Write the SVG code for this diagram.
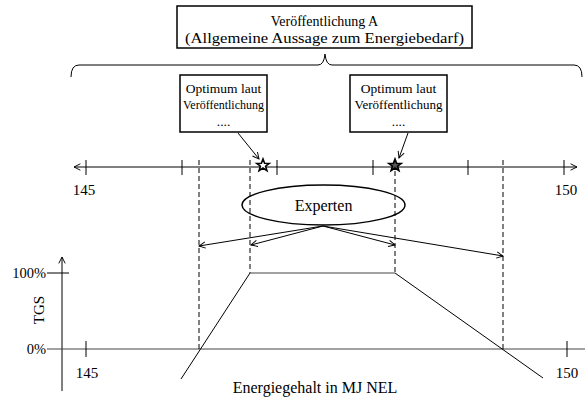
<svg xmlns="http://www.w3.org/2000/svg" width="585" height="397" viewBox="0 0 585 397">
<defs>
<style>
text{font-family:"Liberation Serif","Times New Roman",serif;fill:#000}
.ln{stroke:#000;stroke-width:1;fill:none}
.gr{stroke:#444;stroke-width:1;fill:none}
.dash{stroke:#000;stroke-width:1;stroke-dasharray:5,3;fill:none}
.box{fill:#fff;stroke:#000;stroke-width:1.5}
.sb{font-size:13.5px;text-anchor:middle}
</style>
<marker id="ah" viewBox="0 0 10 10" refX="9" refY="5" markerWidth="8" markerHeight="8" orient="auto-start-reverse" markerUnits="userSpaceOnUse">
<path d="M1,1 L9,5 L1,9" fill="none" stroke="#000" stroke-width="1.2"/>
</marker>
</defs>
<rect width="585" height="397" fill="#fff"/>

<g id="publication-a">
<rect class="box" x="177" y="6" width="295" height="42"/>
<text x="324.5" y="26" font-size="14" text-anchor="middle">Veröffentlichung A</text>
<text x="185" y="43" font-size="15" textLength="279" lengthAdjust="spacingAndGlyphs">(Allgemeine Aussage zum Energiebedarf)</text>
</g>

<g id="brace">
<path class="ln" d="M71,77 Q71,65 79,65 L318,65 Q324,65 325,54 Q326,65 332,65 L574,65 Q582,65 582,77"/>
</g>

<g id="optimum-1">
<rect class="box" x="180" y="75" width="87" height="57"/>
<text class="sb" x="223.5" y="93">Optimum laut</text>
<text class="sb" x="223.5" y="109" textLength="81" lengthAdjust="spacingAndGlyphs">Veröffentlichung</text>
<text class="sb" x="223.5" y="126">....</text>
</g>

<g id="optimum-2">
<rect class="box" x="350" y="75" width="97" height="57"/>
<text class="sb" x="398.5" y="93">Optimum laut</text>
<text class="sb" x="398.5" y="109" textLength="88" lengthAdjust="spacingAndGlyphs">Veröffentlichung</text>
<text class="sb" x="398.5" y="126">....</text>
</g>

<g id="scale-top">
<line class="ln" x1="74" y1="167" x2="577" y2="167" marker-start="url(#ah)" marker-end="url(#ah)"/>
<g class="ln">
<line x1="86" y1="160" x2="86" y2="175"/>
<line x1="182" y1="160" x2="182" y2="175"/>
<line x1="277" y1="160" x2="277" y2="175"/>
<line x1="373" y1="160" x2="373" y2="175"/>
<line x1="468" y1="160" x2="468" y2="175"/>
<line x1="564" y1="160" x2="564" y2="175"/>
</g>
<text x="84" y="195" font-size="15" text-anchor="middle">145</text>
<text x="566" y="195" font-size="15" text-anchor="middle">150</text>
</g>

<g id="stars">
<path d="M263,159 L264.6,163.3 L269.2,163.4 L265.6,166.2 L266.9,170.6 L263,168 L259.1,170.6 L260.4,166.2 L256.8,163.4 L261.4,163.3 Z" fill="#fff" stroke="#000" stroke-width="1.6"/>
<path d="M395,159 L396.6,163.3 L401.2,163.4 L397.6,166.2 L398.9,170.6 L395,168 L391.1,170.6 L392.4,166.2 L388.8,163.4 L393.4,163.3 Z" fill="#555" stroke="#000" stroke-width="1.6"/>
</g>

<g id="experten">
<ellipse cx="323.5" cy="205" rx="81.5" ry="20" fill="#fff" stroke="#000" stroke-width="1.5"/>
<text x="323.5" y="211" font-size="16" text-anchor="middle">Experten</text>
</g>

<g id="tgs-axis">
<line class="ln" x1="62" y1="391" x2="62" y2="257" marker-end="url(#ah)"/>
<line class="ln" x1="47" y1="273" x2="69" y2="273"/>
<line class="gr" x1="47" y1="349" x2="585" y2="349"/>
<line class="ln" x1="86" y1="341" x2="86" y2="357"/>
<line class="ln" x1="567" y1="341" x2="567" y2="357"/>
<text x="46" y="278" font-size="14.5" text-anchor="end">100%</text>
<text x="46" y="354" font-size="14.5" text-anchor="end">0%</text>
<text x="87" y="378" font-size="15" text-anchor="middle">145</text>
<text x="567" y="378" font-size="15" text-anchor="middle">150</text>
<text transform="translate(44,310) rotate(-90)" font-size="15" text-anchor="middle">TGS</text>
<text x="315" y="393" font-size="16" text-anchor="middle">Energiegehalt in MJ NEL</text>
</g>

<g id="connectors">
<line class="dash" x1="199" y1="160" x2="199" y2="349"/>
<line class="dash" x1="250" y1="160" x2="250" y2="273"/>
<line class="dash" x1="395" y1="171" x2="395" y2="273"/>
<line class="dash" x1="503" y1="160" x2="503" y2="349"/>
<line class="ln" x1="238" y1="133" x2="259" y2="159" marker-end="url(#ah)"/>
<line class="ln" x1="408" y1="133" x2="399" y2="158" marker-end="url(#ah)"/>
<line class="ln" x1="323" y1="226" x2="199" y2="246" marker-end="url(#ah)"/>
<line class="ln" x1="323" y1="226" x2="251" y2="245" marker-end="url(#ah)"/>
<line class="ln" x1="323" y1="226" x2="395" y2="245" marker-end="url(#ah)"/>
<line class="ln" x1="323" y1="226" x2="503" y2="256" marker-end="url(#ah)"/>
<line class="ln" x1="181" y1="379" x2="250" y2="273"/>
<line class="gr" x1="250" y1="273" x2="395" y2="273" stroke-width="1.5"/>
<line class="ln" x1="395" y1="273" x2="543" y2="378"/>
</g>
</svg>
